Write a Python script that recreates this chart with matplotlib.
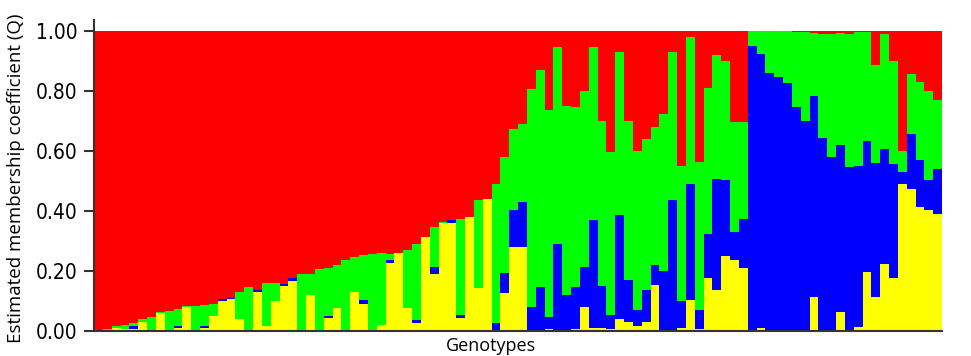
import matplotlib
matplotlib.use('Agg')
import matplotlib.pyplot as plt
import numpy as np

# membership coefficients (Q) per genotype, four clusters
yellow = [0, 0.004, 0.010, 0.005, 0.005, 0.030, 0, 0.060, 0, 0.010,
          0.080, 0, 0.010, 0.050, 0.100, 0.105, 0.040, 0, 0.130, 0.015,
          0.100, 0.150, 0.168, 0, 0.120, 0, 0.043, 0.075, 0, 0.130,
          0.090, 0, 0.020, 0.225, 0.260, 0.075, 0.026, 0.313, 0.190, 0.358,
          0.358, 0.042, 0.380, 0.142, 0.440, 0, 0.125, 0.280, 0.280, 0.003,
          0, 0.005, 0, 0, 0.005, 0.080, 0.010, 0.010, 0.005, 0.040,
          0.030, 0.015, 0.030, 0.153, 0, 0, 0.010, 0.103, 0.008, 0.175,
          0.136, 0.248, 0.236, 0.208, 0, 0.010, 0, 0, 0, 0,
          0, 0.112, 0, 0, 0.063, 0, 0.012, 0.195, 0.114, 0.222,
          0.178, 0.490, 0.474, 0.413, 0.402, 0.391]
blue = [0, 0, 0, 0, 0.012, 0, 0, 0, 0, 0.005,
        0, 0, 0.005, 0, 0.005, 0.005, 0, 0, 0.008, 0,
        0, 0.007, 0.010, 0, 0, 0, 0.007, 0, 0, 0,
        0.012, 0, 0, 0.012, 0, 0, 0.010, 0, 0.024, 0,
        0.012, 0.011, 0, 0, 0, 0.025, 0.067, 0.122, 0.150, 0.078,
        0.147, 0.040, 0.290, 0.120, 0.140, 0.134, 0.360, 0.140, 0.048, 0.345,
        0.140, 0.055, 0.106, 0.067, 0.200, 0.435, 0.090, 0.385, 0.062, 0.147,
        0.370, 0.256, 0.094, 0.166, 0.948, 0.912, 0.858, 0.846, 0.824, 0.745,
        0.700, 0.670, 0.642, 0.579, 0.556, 0.546, 0.538, 0.438, 0.444, 0.383,
        0.379, 0.040, 0.183, 0.155, 0.100, 0.149]
green = [0.003, 0.004, 0.006, 0.015, 0.010, 0.010, 0.045, 0.002, 0.068, 0.057,
         0.002, 0.082, 0.070, 0.040, 0, 0, 0.090, 0.145, 0, 0.145,
         0.060, 0, 0, 0.190, 0.070, 0.205, 0.160, 0.145, 0.236, 0.115,
         0.150, 0.255, 0.240, 0.020, 0, 0.195, 0.254, 0, 0.133, 0.005,
         0, 0.321, 0, 0.293, 0, 0.465, 0.387, 0.271, 0.260, 0.725,
         0.720, 0.690, 0.655, 0.630, 0.600, 0.586, 0.575, 0.550, 0.543, 0.543,
         0.530, 0.530, 0.504, 0.460, 0.523, 0.493, 0.450, 0.490, 0.492, 0.488,
         0.414, 0.396, 0.365, 0.321, 0.052, 0.078, 0.142, 0.152, 0.174, 0.250,
         0.295, 0.210, 0.348, 0.411, 0.372, 0.444, 0.445, 0.362, 0.326, 0.385,
         0.343, 0.070, 0.199, 0.262, 0.298, 0.230]
red = [0.997, 0.992, 0.984, 0.980, 0.973, 0.960, 0.955, 0.938, 0.932, 0.928,
       0.918, 0.918, 0.915, 0.910, 0.895, 0.890, 0.870, 0.855, 0.862, 0.840,
       0.840, 0.843, 0.822, 0.810, 0.810, 0.795, 0.790, 0.780, 0.764, 0.755,
       0.748, 0.745, 0.740, 0.743, 0.740, 0.730, 0.710, 0.687, 0.653, 0.637,
       0.630, 0.626, 0.620, 0.565, 0.560, 0.510, 0.421, 0.327, 0.310, 0.194,
       0.133, 0.265, 0.055, 0.250, 0.255, 0.200, 0.055, 0.300, 0.404, 0.072,
       0.300, 0.400, 0.360, 0.320, 0.277, 0.072, 0.450, 0.022, 0.438, 0.190,
       0.080, 0.100, 0.305, 0.305, 0, 0, 0, 0.002, 0.002, 0.005,
       0.005, 0.008, 0.010, 0.010, 0.009, 0.010, 0.005, 0.005, 0.116, 0.010,
       0.100, 0.400, 0.144, 0.170, 0.200, 0.230]

yticks = [0.0, 0.2, 0.4, 0.6, 0.8, 1.0]

fig = plt.figure(figsize=(9.71, 3.56), dpi=100)
ax = fig.add_axes([94 / 971, 1 - 331 / 356, 848 / 971, 311 / 356])

x = np.arange(len(yellow))
bottom = np.zeros(len(x))
for vals, col in [(yellow, '#ffff00'), (blue, '#0000ff'),
                  (green, '#00ff00'), (red, '#ff0000')]:
    ax.bar(x, vals, width=1.0, bottom=bottom, color=col,
           linewidth=0, antialiased=False)
    bottom += np.array(vals)

ax.set_xlim(-0.5, len(x) - 0.5)
ax.set_ylim(0, 1.035)
ax.set_xticks([])
ax.set_yticks(yticks)
ax.set_yticklabels(['%.2f' % v for v in yticks], family='DejaVu Sans',
                   fontstretch='condensed', fontsize=15)
ax.tick_params(axis='y', length=7, width=1.5, color='#333333', pad=5)
for s in ['top', 'right']:
    ax.spines[s].set_visible(False)
ax.spines['left'].set_color('#333333')
ax.spines['left'].set_linewidth(1.5)
ax.spines['bottom'].set_color('#333333')
ax.spines['bottom'].set_linewidth(1.5)

fig.text(16 / 971, 0.5, 'Estimated membership coefficient (Q)', rotation=90,
         ha='center', va='center', fontsize=13.5, family='Open Sans')
fig.text(491 / 971, 1 - 346 / 356, 'Genotypes', ha='center', va='center',
         fontsize=13, family='Open Sans')

fig.savefig('out.png', dpi=100)
